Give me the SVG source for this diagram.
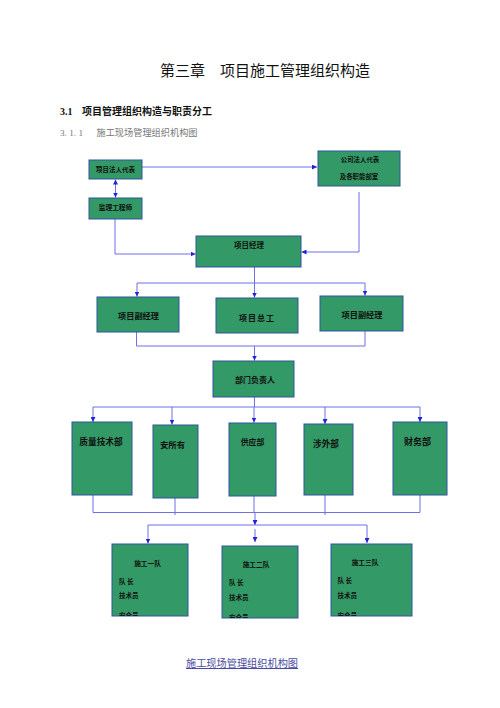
<svg xmlns="http://www.w3.org/2000/svg" width="500" height="708" viewBox="0 0 500 708">
<style>
.box{fill:#339966;stroke:#2f55a0;stroke-width:1}
.t{font-family:"Noto Sans CJK SC","Liberation Sans",sans-serif;font-weight:bold;fill:#111;text-anchor:middle}
.tl{font-family:"Noto Sans CJK SC","Liberation Sans",sans-serif;font-weight:bold;fill:#111}
.c{fill:none;stroke:#6f6fe6;stroke-width:1}
.a{marker-end:url(#ah)}
</style>
<defs>
<marker id="ah" markerUnits="userSpaceOnUse" markerWidth="5" markerHeight="5" refX="5" refY="2.5" orient="auto-start-reverse">
<path d="M0,0 L5,2.5 L0,5 z" fill="#2424d4"/>
</marker>
<clipPath id="cp1"><rect x="112" y="544" width="76" height="72"/></clipPath>
<clipPath id="cp2"><rect x="222" y="546" width="76" height="72"/></clipPath>
<clipPath id="cp3"><rect x="331" y="544" width="81" height="72"/></clipPath>
</defs>
<rect width="500" height="708" fill="#fff"/>

<g id="headings">
<text x="160" y="75.5" font-family="'Noto Sans CJK SC',sans-serif" font-size="15" fill="#111">第三章　项目施工管理组织构造</text>
<text y="114.8" font-family="'Liberation Serif','Noto Sans CJK SC',serif" font-size="10" font-weight="bold" fill="#111"><tspan x="60">3.1</tspan><tspan x="82" font-family="'Noto Sans CJK SC',sans-serif">项目管理组织构造与职责分工</tspan></text>
<text y="135.5" font-family="'Liberation Serif','Noto Sans CJK SC',serif" font-size="9.2" fill="#777"><tspan x="60">3. 1. 1</tspan><tspan x="96.5" font-family="'Noto Sans CJK SC',sans-serif">施工现场管理组织机构图</tspan></text>
</g>

<g id="connectors">
<path class="c a" d="M142,167 H317"/>
<path class="c" d="M115.5,179.5 V197.5" marker-start="url(#ah)" marker-end="url(#ah)"/>
<path class="c a" d="M115,219 V254 H195.5"/>
<path class="c a" d="M359,192 V252 H301.5"/>
<path class="c a" d="M254.5,267 V297.5"/>
<path class="c" d="M137,283 H365"/>
<path class="c a" d="M137,283 V296.5"/>
<path class="c a" d="M365,283 V295.5"/>
<path class="c" d="M136.5,332 V346 H365 V331"/>
<path class="c a" d="M254.5,346 V360.5"/>
<path class="c" d="M254.5,397 V407"/>
<path class="c" d="M93,407 H420"/>
<path class="c a" d="M93,407 V422"/>
<path class="c a" d="M172,407 V424.5"/>
<path class="c a" d="M254,407 V422.5"/>
<path class="c a" d="M325,407 V424"/>
<path class="c a" d="M420,407 V422"/>
<path class="c" d="M93,495 V512.5 H420 V495"/>
<path class="c" d="M175,498 V515"/>
<path class="c" d="M254,496 V512.5"/>
<path class="c" d="M325,495 V515"/>
<path class="c a" d="M255,512.5 V525"/>
<path class="c" d="M148,525 H367"/>
<path class="c a" d="M148,525 V543.5"/>
<path class="c a" d="M255,529 V542"/>
<path class="c a" d="M367,525 V543"/>
</g>

<g id="n-legal-rep">
<rect class="box" x="89" y="160" width="53" height="19"/>
<text class="t" x="115.5" y="171.5" font-size="6.5">项目法人代表</text>
</g>
<g id="n-supervisor">
<rect class="box" x="89" y="198" width="53" height="21"/>
<text class="t" x="115.5" y="209.5" font-size="6.7">监理工程师</text>
</g>
<g id="n-company">
<rect class="box" x="318" y="151" width="82" height="35"/>
<text class="t" x="360" y="161.5" font-size="6.4">公司法人代表</text>
<text class="t" x="359" y="179" font-size="6.4">及各职能部室</text>
</g>
<g id="n-pm">
<rect class="box" x="196" y="236" width="105" height="31"/>
<text class="t" x="249" y="248" font-size="7.5">项目经理</text>
</g>
<g id="n-deputy-left">
<rect class="box" x="97" y="297" width="82" height="35"/>
<text class="t" x="138.5" y="318.8" font-size="8.2">项目副经理</text>
</g>
<g id="n-chief-eng">
<rect class="box" x="216" y="298" width="82" height="35"/>
<text class="t" x="257" y="320.7" font-size="8" letter-spacing="1">项目总工</text>
</g>
<g id="n-deputy-right">
<rect class="box" x="320" y="296" width="83" height="35"/>
<text class="t" x="362" y="318" font-size="8.2">项目副经理</text>
</g>
<g id="n-dept-head">
<rect class="box" x="213" y="361" width="81" height="36"/>
<text class="t" x="255" y="383" font-size="8">部门负责人</text>
</g>
<g id="n-quality">
<rect class="box" x="72" y="422" width="60" height="73"/>
<text class="t" x="101" y="445.3" font-size="8.7">质量技术部</text>
</g>
<g id="n-safety">
<rect class="box" x="153" y="425" width="45" height="73"/>
<text class="t" x="172.5" y="448" font-size="8.4">安所有</text>
</g>
<g id="n-supply">
<rect class="box" x="229" y="423" width="47" height="73"/>
<text class="t" x="252.5" y="445" font-size="7.8">供应部</text>
</g>
<g id="n-foreign">
<rect class="box" x="304" y="424" width="49" height="71"/>
<text class="t" x="326" y="447" font-size="8.6">涉外部</text>
</g>
<g id="n-finance">
<rect class="box" x="393" y="422" width="54" height="73"/>
<text class="t" x="417.5" y="445.4" font-size="9">财务部</text>
</g>
<g id="n-team1">
<rect class="box" x="112" y="544" width="76" height="72"/>
<g clip-path="url(#cp1)">
<text class="t" x="147.5" y="565.5" font-size="6.7">施工一队</text>
<text class="tl" x="119" y="583.5" font-size="6.5">队 长</text>
<text class="tl" x="119" y="597.8" font-size="6.5">技术员</text>
<text class="tl" x="119" y="617.5" font-size="6.5">安全员</text>
</g>
</g>
<g id="n-team2">
<rect class="box" x="222" y="546" width="76" height="72"/>
<g clip-path="url(#cp2)">
<text class="t" x="256" y="567" font-size="6.7">施工二队</text>
<text class="tl" x="229" y="585" font-size="6.5">队 长</text>
<text class="tl" x="229" y="599.5" font-size="6.5">技术员</text>
<text class="tl" x="229" y="619.5" font-size="6.5">安全员</text>
</g>
</g>
<g id="n-team3">
<rect class="box" x="331" y="544" width="81" height="72"/>
<g clip-path="url(#cp3)">
<text class="t" x="365" y="564.5" font-size="6.7">施工三队</text>
<text class="tl" x="337.5" y="583" font-size="6.5">队 长</text>
<text class="tl" x="337.5" y="597.5" font-size="6.5">技术员</text>
<text class="tl" x="337.5" y="617.5" font-size="6.5">安全员</text>
</g>
</g>

<g id="caption">
<text x="242" y="667" text-anchor="middle" font-family="'Noto Sans CJK SC',sans-serif" font-size="10.2" fill="#4a4a9e" text-decoration="underline">施工现场管理组织机构图</text>
</g>
</svg>
